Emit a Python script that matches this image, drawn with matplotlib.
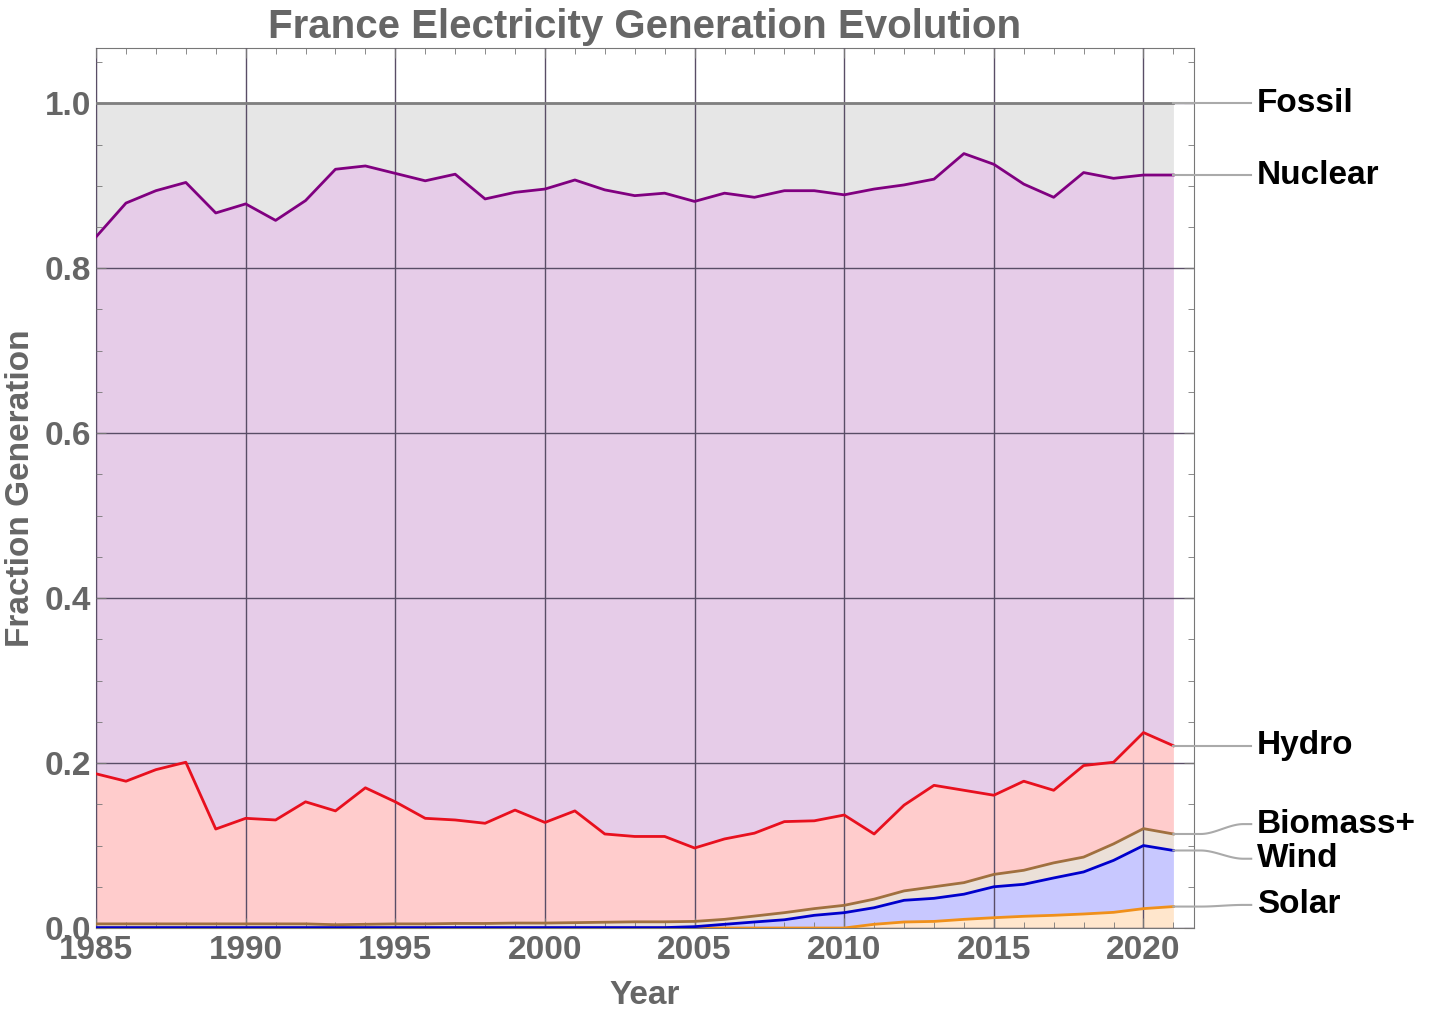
import numpy as np
import matplotlib.pyplot as plt
from matplotlib.ticker import MultipleLocator

plt.rcParams['font.family'] = ['Liberation Sans', 'DejaVu Sans']

years = np.arange(1985, 2022)

# cumulative tops of each stacked band
solar_top = [0.0] * 26 + [0.0045, 0.0073, 0.008, 0.0105, 0.0125, 0.0142,
                          0.0154, 0.017, 0.019, 0.0235, 0.026]
wind_top = [0.0005] * 20 + [0.0016, 0.0045, 0.0073, 0.010, 0.0154, 0.0186,
                            0.0246, 0.0336, 0.036, 0.041, 0.050, 0.053,
                            0.0607, 0.068, 0.082, 0.100, 0.094]
biomass_top = [0.005, 0.005, 0.005, 0.005, 0.005, 0.005, 0.005, 0.005, 0.004,
               0.0045, 0.005, 0.005, 0.0055, 0.0055, 0.006, 0.006, 0.0065,
               0.007, 0.0075, 0.0075, 0.008, 0.0105, 0.0145, 0.0186, 0.0235,
               0.0275, 0.035, 0.045, 0.050, 0.055, 0.065, 0.070, 0.079,
               0.086, 0.102, 0.1205, 0.114]
hydro_top = [0.187, 0.178, 0.192, 0.201, 0.120, 0.133, 0.131, 0.153, 0.142,
             0.170, 0.153, 0.133, 0.131, 0.127, 0.143, 0.128, 0.142, 0.114,
             0.111, 0.111, 0.097, 0.108, 0.115, 0.129, 0.130, 0.137, 0.114,
             0.149, 0.173, 0.167, 0.161, 0.178, 0.167, 0.197, 0.201, 0.237,
             0.221]
nuclear_top = [0.838, 0.879, 0.894, 0.904, 0.867, 0.878, 0.858, 0.882, 0.920,
               0.924, 0.915, 0.906, 0.914, 0.884, 0.892, 0.896, 0.907, 0.895,
               0.888, 0.891, 0.881, 0.891, 0.886, 0.894, 0.894, 0.889, 0.896,
               0.901, 0.908, 0.939, 0.926, 0.902, 0.886, 0.916, 0.909, 0.913,
               0.913]
fossil_top = [1.0] * len(years)

names = ['Solar', 'Wind', 'Biomass+', 'Hydro', 'Nuclear', 'Fossil']
tops = [solar_top, wind_top, biomass_top, hydro_top, nuclear_top, fossil_top]
line_colors = ['#f0901a', '#0000cc', '#a0703f', '#e8101e', '#800080', '#808080']
fill_colors = ['#ffe6cc', '#c8c8ff', '#ebe0d8', '#ffcccc', '#e6cce8', '#e6e6e6']
label_y = [0.028, 0.084, 0.126, 0.221, 0.913, 1.0]

fig = plt.figure(figsize=(14.4, 10.13), dpi=100)
ax = fig.add_axes([0.0667, 0.0839, 0.7625, 0.8687])

lower = np.zeros(len(years))
for name, top, lc, fc in zip(names, tops, line_colors, fill_colors):
    top = np.array(top)
    ax.fill_between(years, lower, top, color=fc, lw=0, zorder=1)
    lower = top
for top, lc in zip(tops, line_colors):
    ax.plot(years, top, color=lc, lw=2, zorder=3)

ax.set_xlim(1985, 2021.69)
ax.set_ylim(0, 1.067)
ax.xaxis.set_major_locator(MultipleLocator(5))
ax.xaxis.set_minor_locator(MultipleLocator(1))
ax.yaxis.set_major_locator(MultipleLocator(0.2))
ax.yaxis.set_minor_locator(MultipleLocator(0.05))
ax.grid(True, which='major', color=(0.35, 0.3, 0.4, 0.2), lw=1, zorder=2)
ax.set_axisbelow(False)
ax.tick_params(which='both', direction='in', top=True, right=True,
               color='#777777', labelcolor='#666666', labelsize=24)
ax.tick_params(which='major', length=7)
ax.tick_params(which='minor', length=4)
ax.tick_params(axis='x', pad=5)
ax.set_yticklabels([f'{v:.1f}' for v in ax.get_yticks()])
for lbl in ax.get_xticklabels() + ax.get_yticklabels():
    lbl.set_fontweight('bold')
for s in ax.spines.values():
    s.set_color('#777777')

ax.set_title('France Electricity Generation Evolution', fontsize=29,
             fontweight='bold', color='#666666', pad=7)
ax.set_xlabel('Year', fontsize=24, fontweight='bold', color='#666666', labelpad=10)
ax.set_ylabel('Fraction Generation', fontsize=24, fontweight='bold',
              color='#666666', labelpad=6)

# leader lines and labels
x0, x1 = years[-1], 2023.6
for name, top, ly in zip(names, tops, label_y):
    y0 = top[-1]
    t = np.linspace(0, 1, 60)
    xs = x0 + (x1 - x0) * t
    s = np.clip((t - 0.35) / 0.55, 0, 1)
    s = s * s * (3 - 2 * s)
    ys = y0 + (ly - y0) * s
    ax.plot(xs, ys, color='#aaaaaa', lw=1.5, clip_on=False, zorder=4)
    ax.text(x1 + 0.2, ly, name, fontsize=24, fontweight='bold', color='black',
            va='center', ha='left', clip_on=False)

fig.savefig('out.png', dpi=100)
